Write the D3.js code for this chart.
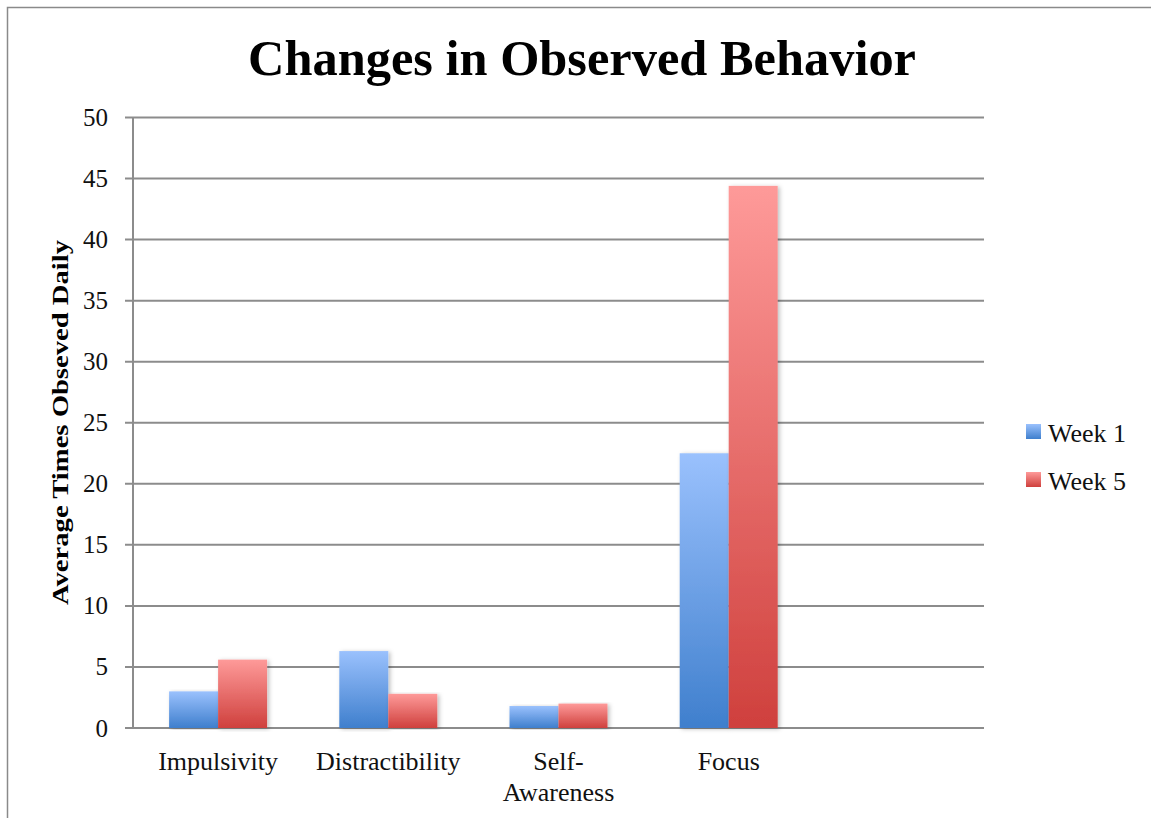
<!DOCTYPE html>
<html>
<head>
<meta charset="utf-8">
<script src="https://cdn.jsdelivr.net/npm/d3@7"></script>
<style>
  html, body { margin: 0; padding: 0; background: #fff; }
  svg { display: block; }
</style>
</head>
<body>
<div id="chart"></div>
<script>
const categories = ["Impulsivity", "Distractibility", "Self-Awareness", "Focus", ""];
const seriesNames = ["Week 1", "Week 5"];
const week1 = [3.0, 6.3, 1.8, 22.5];
const week5 = [5.6, 2.8, 2.0, 44.4];
const yTicks = [0, 5, 10, 15, 20, 25, 30, 35, 40, 45, 50];

const width = 1151;
const height = 818;
const font = "'Liberation Serif', 'DejaVu Serif', serif";

const svg = d3.select("#chart")
  .append("svg")
  .attr("width", width)
  .attr("height", height);

const defs = svg.append("defs");

// bar gradients: light at top, darker at bottom
const gradients = [
  { id: "gradBlue", top: "#9ac1fd", bottom: "#3f7fcd" },
  { id: "gradRed", top: "#fe9a99", bottom: "#cf403d" },
];
gradients.forEach((g) => {
  const lg = defs.append("linearGradient")
    .attr("id", g.id)
    .attr("x1", 0).attr("y1", 0)
    .attr("x2", 0).attr("y2", 1);
  lg.append("stop").attr("offset", "0%").attr("stop-color", g.top);
  lg.append("stop").attr("offset", "100%").attr("stop-color", g.bottom);
});

const shadow = defs.append("filter")
  .attr("id", "shadow")
  .attr("x", "-20%").attr("y", "-5%")
  .attr("width", "140%").attr("height", "110%");
shadow.append("feDropShadow")
  .attr("dx", 2).attr("dy", 1)
  .attr("stdDeviation", 2)
  .attr("flood-color", "#000")
  .attr("flood-opacity", 0.25);

// outer frame
svg.append("rect")
  .attr("x", 7.5).attr("y", 7.5)
  .attr("width", 1160).attr("height", 830)
  .attr("fill", "none")
  .attr("stroke", "#8a8a8a")
  .attr("stroke-width", 1.5);

const margin = { top: 117.5, left: 133, right: 984, bottom: 728 };

const x = d3.scaleBand()
  .domain(categories)
  .range([margin.left, margin.right]);

const xSub = d3.scaleBand()
  .domain(seriesNames)
  .range([0, 98]);

const y = d3.scaleLinear()
  .domain([0, 50])
  .range([margin.bottom, margin.top]);

// gridlines
svg.append("g")
  .selectAll("line")
  .data(yTicks)
  .join("line")
  .attr("x1", margin.left - 8)
  .attr("x2", margin.right)
  .attr("y1", (d) => y(d))
  .attr("y2", (d) => y(d))
  .attr("stroke", "#8c8c8c")
  .attr("stroke-width", 2);

// y axis line
svg.append("line")
  .attr("x1", margin.left).attr("x2", margin.left)
  .attr("y1", margin.top).attr("y2", margin.bottom)
  .attr("stroke", "#8c8c8c")
  .attr("stroke-width", 2);

// y tick labels
svg.append("g")
  .selectAll("text")
  .data(yTicks)
  .join("text")
  .attr("x", 108)
  .attr("y", (d) => y(d) + 8.5)
  .attr("text-anchor", "end")
  .attr("font-family", font)
  .attr("font-size", 25)
  .attr("fill", "#111")
  .text((d) => d);

// bars
const data = categories.slice(0, 4).map((c, i) => ({
  category: c,
  values: [
    { series: "Week 1", value: week1[i], fill: "url(#gradBlue)" },
    { series: "Week 5", value: week5[i], fill: "url(#gradRed)" },
  ],
}));

const groups = svg.append("g")
  .selectAll("g")
  .data(data)
  .join("g")
  .attr("transform", (d) => `translate(${x(d.category) + x.bandwidth() / 2 - 49},0)`);

groups.selectAll("rect")
  .data((d) => d.values)
  .join("rect")
  .attr("x", (d) => xSub(d.series))
  .attr("y", (d) => y(d.value))
  .attr("width", xSub.bandwidth())
  .attr("height", (d) => y(0) - y(d.value))
  .attr("fill", (d) => d.fill)
  .attr("filter", "url(#shadow)");

// category labels
const catLabels = svg.append("g")
  .selectAll("text")
  .data(categories.slice(0, 4))
  .join("text")
  .attr("x", (d) => x(d) + x.bandwidth() / 2)
  .attr("y", 770)
  .attr("text-anchor", "middle")
  .attr("font-family", font)
  .attr("font-size", 26)
  .attr("fill", "#111");

catLabels.each(function (d) {
  const parts = d === "Self-Awareness" ? ["Self-", "Awareness"] : [d];
  d3.select(this).selectAll("tspan")
    .data(parts)
    .join("tspan")
    .attr("x", x(d) + x.bandwidth() / 2)
    .attr("dy", (p, i) => (i === 0 ? 0 : 31))
    .text((p) => p);
});

// title
svg.append("text")
  .attr("x", 582)
  .attr("y", 75)
  .attr("text-anchor", "middle")
  .attr("font-family", font)
  .attr("font-weight", "bold")
  .attr("font-size", 50)
  .attr("textLength", 668)
  .attr("lengthAdjust", "spacingAndGlyphs")
  .attr("fill", "#000")
  .text("Changes in Observed Behavior");

// y axis title
svg.append("text")
  .attr("transform", `translate(68, 422.5) rotate(-90)`)
  .attr("text-anchor", "middle")
  .attr("font-family", font)
  .attr("font-weight", "bold")
  .attr("font-size", 24)
  .attr("textLength", 365)
  .attr("lengthAdjust", "spacingAndGlyphs")
  .attr("fill", "#000")
  .text("Average Times Obseved Daily");

// legend
const legend = svg.append("g")
  .selectAll("g")
  .data(seriesNames)
  .join("g")
  .attr("transform", (d, i) => `translate(1026, ${424 + i * 48})`);

legend.append("rect")
  .attr("width", 15)
  .attr("height", 15)
  .attr("fill", (d, i) => (i === 0 ? "url(#gradBlue)" : "url(#gradRed)"));

legend.append("text")
  .attr("x", 22)
  .attr("y", 17.5)
  .attr("font-family", font)
  .attr("font-size", 26)
  .attr("fill", "#111")
  .text((d) => d);
</script>
</body>
</html>
